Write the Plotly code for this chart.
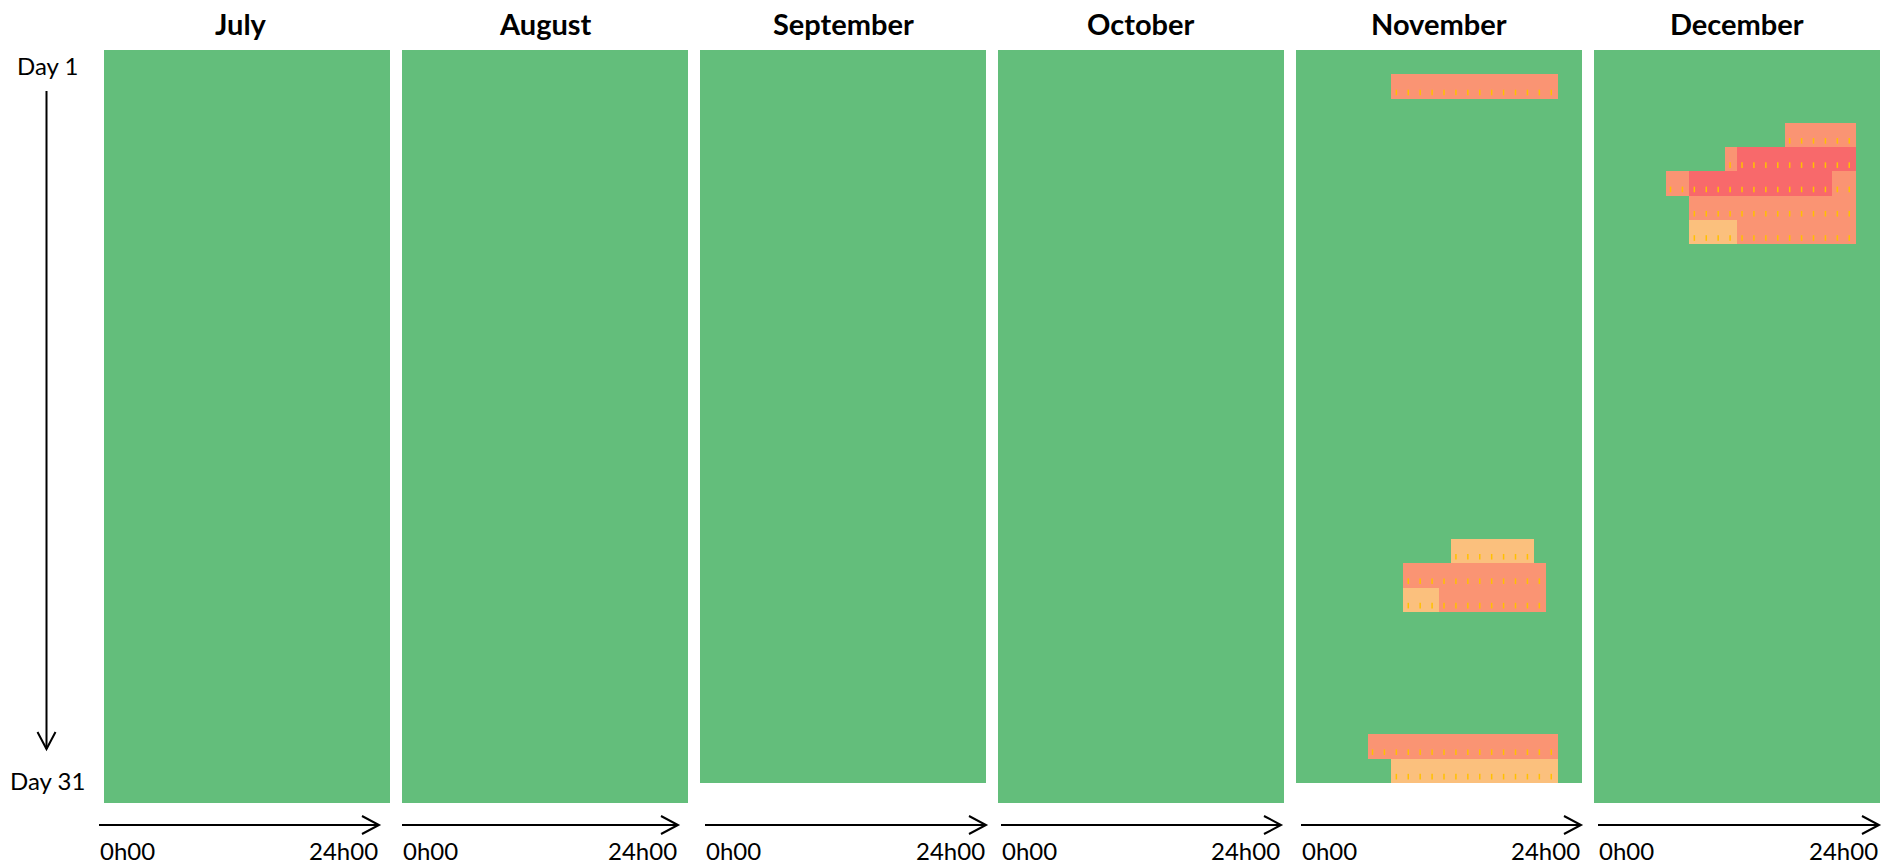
import plotly.graph_objects as go

# ---------------- data ----------------
months = ["July", "August", "September", "October", "November", "December"]
days_in_month = [31, 31, 30, 31, 30, 31]
hours = list(range(24))

# level codes: 0 = normal (green), 1 = light orange, 2 = orange, 3 = red
# runs: (day, first_hour, last_hour, level)
july_runs = []
august_runs = []
september_runs = []
october_runs = []
november_runs = [
    (2, 8, 21, 2),
    (21, 13, 19, 1),
    (22, 9, 20, 2),
    (23, 9, 11, 1),
    (23, 12, 20, 2),
    (29, 6, 21, 2),
    (30, 8, 21, 1),
]
december_runs = [
    (4, 16, 21, 2),
    (5, 11, 11, 2),
    (5, 12, 21, 3),
    (6, 6, 7, 2),
    (6, 8, 19, 3),
    (6, 20, 21, 2),
    (7, 8, 21, 2),
    (8, 8, 11, 1),
    (8, 12, 21, 2),
]
month_runs = [july_runs, august_runs, september_runs, october_runs, november_runs, december_runs]

level_colors = ["#63BE7B", "#FBC07D", "#FA9473", "#F8696B"]

# ---------------- layout geometry (window pixels) ----------------
W, H = 1892, 865
panel_left0 = 104
panel_step = 298
panel_w = 286
panel_top = 50
arrow_x = [(99, 379), (402, 678), (705, 986), (1001, 1281), (1301, 1581), (1598, 1879)]
FONT = "Lato"


def px_x(x):
    return x / W


def px_y(y):
    return 1 - y / H


fig = go.Figure()
colorscale = [[0, level_colors[0]], [1 / 3, level_colors[1]], [2 / 3, level_colors[2]], [1, level_colors[3]]]

annotations = []
shapes = []

for i, (name, nd, runs) in enumerate(zip(months, days_in_month, month_runs)):
    z = [[0 for _ in hours] for _ in range(nd)]
    tx, ty = [], []
    for (d, h0, h1, lvl) in runs:
        for h in range(h0, h1 + 1):
            z[d - 1][h] = lvl
            tx.append(h - 0.08)
            ty.append(d - 1 + 0.24)
    left = panel_left0 + i * panel_step
    right = left + panel_w
    bottom = panel_top + (753 if nd == 31 else 733)
    ax = "" if i == 0 else str(i + 1)
    fig.add_trace(go.Heatmap(
        z=z, x=hours, y=list(range(nd)),
        colorscale=colorscale, zmin=0, zmax=3, showscale=False,
        hoverinfo="skip", xaxis="x" + ax, yaxis="y" + ax,
    ))
    if tx:
        fig.add_trace(go.Scatter(
            x=tx, y=ty, mode="markers", xaxis="x" + ax, yaxis="y" + ax,
            marker=dict(symbol="line-ns", size=4, line=dict(color="#FFC000", width=1.5)),
            hoverinfo="skip", showlegend=False,
        ))
    fig.layout["xaxis" + ax] = dict(domain=[px_x(left), px_x(right)], range=[-0.5, 23.5],
                                   visible=False, anchor="y" + ax, fixedrange=True)
    fig.layout["yaxis" + ax] = dict(domain=[px_y(bottom), px_y(panel_top)], range=[nd - 0.5, -0.5],
                                   visible=False, anchor="x" + ax, fixedrange=True)
    # month title
    annotations.append(dict(text="<b>%s</b>" % name, x=px_x((left + right) / 2 - (6 if i == 0 else 0)),
                            y=px_y(23), xref="paper", yref="paper", showarrow=False,
                            xanchor="center", yanchor="middle",
                            font=dict(size=29, color="#000000", family=FONT)))
    # time arrow
    a0, a1 = arrow_x[i]
    ya = 825
    shapes.append(dict(type="line", xref="paper", yref="paper", x0=px_x(a0), x1=px_x(a1),
                       y0=px_y(ya), y1=px_y(ya), line=dict(color="#000000", width=2)))
    shapes.append(dict(type="path", xref="paper", yref="paper",
                       path="M %f %f L %f %f L %f %f" % (px_x(a1 - 17), px_y(ya - 9), px_x(a1), px_y(ya),
                                                         px_x(a1 - 17), px_y(ya + 9)),
                       line=dict(color="#000000", width=2)))
    annotations.append(dict(text="0h00", x=px_x(a0 - 1), y=px_y(850), xref="paper", yref="paper",
                            showarrow=False, xanchor="left", yanchor="middle",
                            font=dict(size=24, color="#000000", family=FONT)))
    annotations.append(dict(text="24h00", x=px_x(a1 + 1), y=px_y(850), xref="paper", yref="paper",
                            showarrow=False, xanchor="right", yanchor="middle",
                            font=dict(size=24, color="#000000", family=FONT)))

# day labels and vertical arrow
annotations.append(dict(text="Day 1", x=px_x(47), y=px_y(66), xref="paper", yref="paper", showarrow=False,
                        xanchor="center", yanchor="middle", font=dict(size=24, color="#000000", family=FONT)))
annotations.append(dict(text="Day 31", x=px_x(47), y=px_y(780), xref="paper", yref="paper", showarrow=False,
                        xanchor="center", yanchor="middle", font=dict(size=24, color="#000000", family=FONT)))
vx = 46.5
shapes.append(dict(type="line", xref="paper", yref="paper", x0=px_x(vx), x1=px_x(vx),
                   y0=px_y(91), y1=px_y(749), line=dict(color="#000000", width=2)))
shapes.append(dict(type="path", xref="paper", yref="paper",
                   path="M %f %f L %f %f L %f %f" % (px_x(vx - 9), px_y(732), px_x(vx), px_y(749),
                                                     px_x(vx + 9), px_y(732)),
                   line=dict(color="#000000", width=2)))

fig.update_layout(width=W, height=H, margin=dict(l=0, r=0, t=0, b=0),
                  paper_bgcolor="white", plot_bgcolor="white", showlegend=False,
                  annotations=annotations, shapes=shapes)

fig.write_html("out.html", config={"displayModeBar": False},
               post_script="document.body.style.margin='0';document.body.style.overflow='hidden';")
